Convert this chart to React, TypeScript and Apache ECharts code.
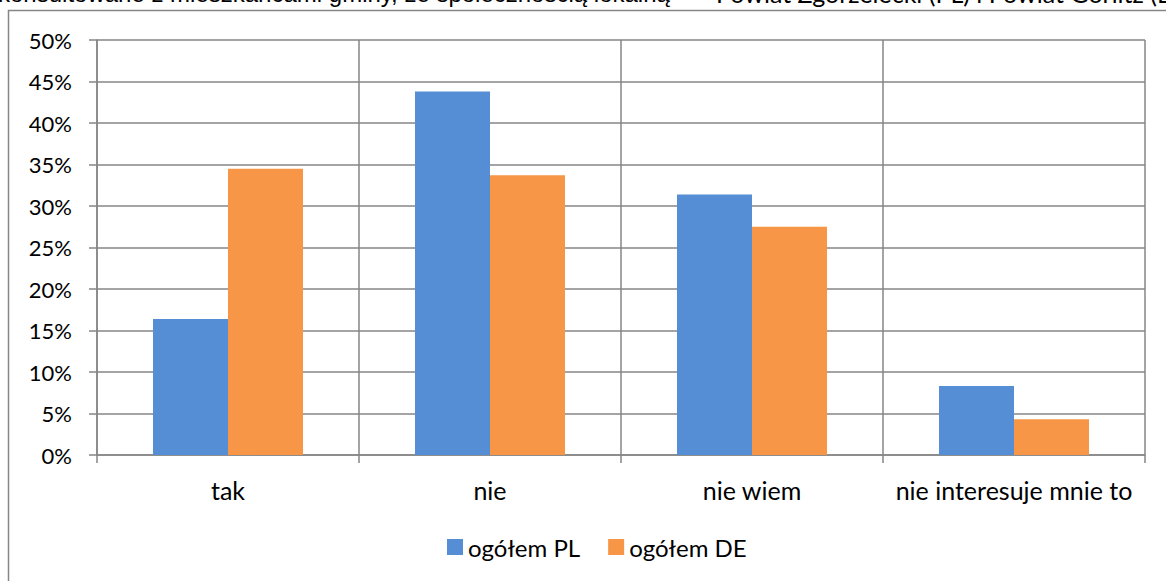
import React, { useEffect, useRef } from "react";
import * as echarts from "echarts";

const categories = ["tak", "nie", "nie wiem", "nie interesuje mnie to"];
const seriesNames = ["ogółem PL", "ogółem DE"];
const valuesPL = [16.4, 43.8, 31.4, 8.3];
const valuesDE = [34.5, 33.7, 27.5, 4.3];
const titleLeft = "konsultowane z mieszkańcami gminy, ze społecznością lokalną";
const titleRight = "– Powiat Zgorzelecki (PL) i Powiat Görlitz (DE)";

const GRID = "#868686";
const FONT = "Lato, 'Open Sans', sans-serif";

export default function App() {
  const ref = useRef<HTMLDivElement>(null);
  useEffect(() => {
    if (!ref.current) return;
    const chart = echarts.init(ref.current, null, { renderer: "svg" });
    chart.setOption({
      animation: false,
      backgroundColor: "#ffffff",
      textStyle: { fontFamily: FONT },
      graphic: [
        {
          type: "rect",
          z: -10,
          shape: { x: 8.5, y: 10.5, width: 1300, height: 800 },
          style: { fill: "none", stroke: GRID, lineWidth: 1.5 },
        },
        {
          type: "text",
          x: -2,
          y: 5,
          style: {
            text: titleLeft,
            font: "24px 'Liberation Sans', sans-serif",
            fill: "#000",
            verticalAlign: "bottom",
          },
        },
        {
          type: "text",
          x: 695,
          y: 5,
          style: {
            text: titleRight,
            font: "25px Lato, sans-serif",
            fill: "#000",
            verticalAlign: "bottom",
          },
        },
      ],
      grid: { left: 97, right: 21, top: 40, bottom: 126, containLabel: false },
      legend: {
        left: 447,
        top: 535,
        padding: 0,
        itemWidth: 16,
        itemHeight: 16,
        itemGap: 28,
        icon: "rect",
        textStyle: { fontSize: 24, fontFamily: FONT, color: "#000" },
        data: seriesNames,
      },
      xAxis: {
        type: "category",
        data: categories,
        boundaryGap: true,
        axisLine: { show: true, lineStyle: { color: GRID, width: 1.5 } },
        axisTick: { show: true, interval: 0, length: 8, inside: false, lineStyle: { color: GRID, width: 1.5 } },
        splitLine: { show: true, interval: 0, lineStyle: { color: GRID, width: 1.5 } },
        axisLabel: { interval: 0, fontSize: 25, color: "#000", margin: 22, fontFamily: FONT },
      },
      yAxis: {
        type: "value",
        min: 0,
        max: 50,
        interval: 5,
        axisLine: { show: true, lineStyle: { color: GRID, width: 1.5 } },
        axisTick: { show: true, length: 8, lineStyle: { color: GRID, width: 1.5 } },
        splitLine: { show: true, lineStyle: { color: GRID, width: 1.5 } },
        axisLabel: { fontSize: 22, color: "#000", margin: 25, formatter: "{value}%", fontFamily: FONT },
      },
      series: [
        {
          name: seriesNames[0],
          type: "bar",
          data: valuesPL,
          barWidth: 75,
          barGap: "0%",
          itemStyle: { color: "#558ED5" },
        },
        {
          name: seriesNames[1],
          type: "bar",
          data: valuesDE,
          barWidth: 75,
          barGap: "0%",
          itemStyle: { color: "#F79646" },
        },
      ],
    });
    return () => chart.dispose();
  }, []);
  return <div ref={ref} style={{ width: 1166, height: 581, position: "absolute", left: 0, top: 0 }} />;
}
